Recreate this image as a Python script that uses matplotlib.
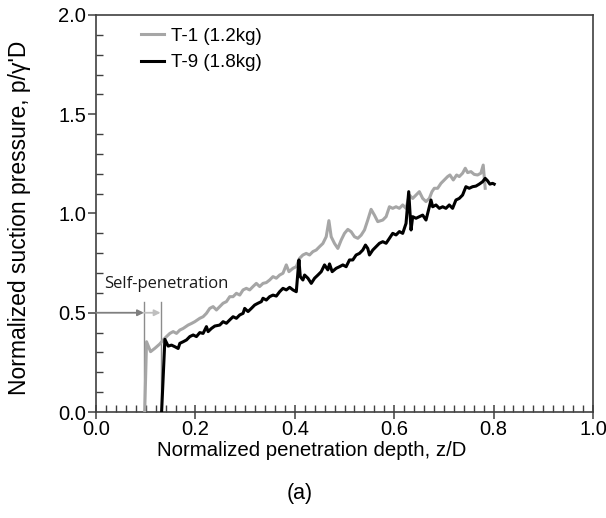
import matplotlib.pyplot as plt
from matplotlib.ticker import MultipleLocator
from matplotlib.transforms import ScaledTranslation

# T-1 (1.2kg), gray curve
t1_z = [0.098, 0.1017, 0.1098, 0.1185, 0.1285, 0.1352, 0.1419, 0.1486, 0.1553, 0.1620,
        0.1687, 0.1754, 0.1854, 0.1921, 0.1988, 0.2088, 0.2155, 0.2222, 0.2289, 0.2356,
        0.2423, 0.2490, 0.2557, 0.2624, 0.2691, 0.2758, 0.2825, 0.2892, 0.2959, 0.3025,
        0.3092, 0.3159, 0.3226, 0.3293, 0.3360, 0.3427, 0.3494, 0.3561, 0.3628, 0.3695,
        0.3762, 0.3829, 0.3882, 0.3963, 0.4030, 0.4096, 0.4163, 0.4230, 0.4297, 0.4364,
        0.4431, 0.4498, 0.4565, 0.4632, 0.4686, 0.4732, 0.4799, 0.4866, 0.4933, 0.5000,
        0.5067, 0.5134, 0.5201, 0.5268, 0.5335, 0.5402, 0.5468, 0.5535, 0.5602, 0.5669,
        0.5770, 0.5837, 0.5904, 0.5970, 0.6037, 0.6104, 0.6171, 0.6238, 0.6305, 0.6372,
        0.6439, 0.6506, 0.6573, 0.6640, 0.6707, 0.6760, 0.6807, 0.6874, 0.6941, 0.7008,
        0.7075, 0.7122, 0.7189, 0.7256, 0.7309, 0.7376, 0.7430, 0.7477, 0.7544, 0.7610,
        0.7677, 0.7744, 0.7791, 0.7831]
t1_p = [0.0, 0.354, 0.304, 0.321, 0.343, 0.363, 0.380, 0.396, 0.405, 0.396,
        0.413, 0.421, 0.438, 0.446, 0.455, 0.472, 0.480, 0.497, 0.522, 0.531,
        0.514, 0.531, 0.548, 0.556, 0.581, 0.581, 0.598, 0.589, 0.615, 0.623,
        0.615, 0.632, 0.648, 0.632, 0.648, 0.652, 0.665, 0.682, 0.674, 0.690,
        0.699, 0.741, 0.707, 0.724, 0.732, 0.774, 0.791, 0.799, 0.791, 0.808,
        0.816, 0.833, 0.849, 0.883, 0.964, 0.883, 0.849, 0.824, 0.866, 0.900,
        0.920, 0.908, 0.883, 0.875, 0.891, 0.917, 0.967, 1.021, 0.992, 0.959,
        0.967, 0.984, 1.034, 1.026, 1.034, 1.026, 1.043, 1.026, 1.093, 1.076,
        1.093, 1.110, 1.076, 1.060, 1.076, 1.110, 1.127, 1.127, 1.152, 1.169,
        1.186, 1.194, 1.169, 1.194, 1.186, 1.203, 1.228, 1.206, 1.211, 1.197,
        1.194, 1.203, 1.244, 1.127]

# T-9 (1.8kg), black curve
t9_z = [0.132, 0.1386, 0.1452, 0.1519, 0.1586, 0.1653, 0.1687, 0.1754, 0.1821, 0.1888,
        0.1955, 0.2021, 0.2088, 0.2155, 0.2222, 0.2256, 0.2323, 0.2390, 0.2490, 0.2557,
        0.2624, 0.2691, 0.2758, 0.2825, 0.2892, 0.2959, 0.2992, 0.3059, 0.3126, 0.3193,
        0.3260, 0.3327, 0.3360, 0.3427, 0.3494, 0.3561, 0.3628, 0.3695, 0.3762, 0.3829,
        0.3896, 0.3963, 0.4030, 0.4083, 0.4110, 0.4163, 0.4197, 0.4264, 0.4331, 0.4398,
        0.4465, 0.4532, 0.4598, 0.4665, 0.4699, 0.4752, 0.4833, 0.4900, 0.4967, 0.5033,
        0.5100, 0.5167, 0.5234, 0.5301, 0.5368, 0.5422, 0.5468, 0.5502, 0.5569, 0.5636,
        0.5703, 0.5770, 0.5837, 0.5904, 0.5970, 0.6037, 0.6104, 0.6171, 0.6238, 0.6292,
        0.6339, 0.6372, 0.6439, 0.6506, 0.6573, 0.6640, 0.6707, 0.6740, 0.6774, 0.6841,
        0.6908, 0.6975, 0.7041, 0.7108, 0.7175, 0.7242, 0.7309, 0.7376, 0.7443, 0.7510,
        0.7577, 0.7644, 0.7711, 0.7778, 0.7831, 0.7878, 0.7925, 0.7979, 0.8012]
t9_p = [0.0, 0.366, 0.332, 0.337, 0.329, 0.320, 0.346, 0.354, 0.363, 0.380,
        0.388, 0.380, 0.400, 0.396, 0.430, 0.405, 0.421, 0.433, 0.438, 0.455,
        0.447, 0.464, 0.480, 0.472, 0.489, 0.497, 0.522, 0.506, 0.522, 0.539,
        0.548, 0.556, 0.573, 0.564, 0.581, 0.589, 0.584, 0.606, 0.623, 0.615,
        0.628, 0.615, 0.606, 0.766, 0.682, 0.665, 0.690, 0.674, 0.648, 0.674,
        0.690, 0.707, 0.741, 0.716, 0.746, 0.707, 0.724, 0.732, 0.741, 0.732,
        0.766, 0.766, 0.791, 0.799, 0.816, 0.841, 0.824, 0.791, 0.816, 0.833,
        0.850, 0.858, 0.850, 0.875, 0.900, 0.892, 0.909, 0.900, 0.950, 1.110,
        0.917, 0.984, 0.976, 0.984, 0.992, 0.967, 1.034, 1.068, 1.034, 1.043,
        1.026, 1.034, 1.026, 1.043, 1.026, 1.068, 1.076, 1.093, 1.135, 1.127,
        1.135, 1.138, 1.148, 1.160, 1.177, 1.165, 1.148, 1.152, 1.148]

# self-penetration markers
self_pen_z = [0.0964, 0.1299]
self_pen_top = 0.556

plt.rcParams['font.family'] = ['Liberation Sans', 'DejaVu Sans']

fig = plt.figure(figsize=(6.06, 5.18), dpi=100)
ax = fig.add_axes([96 / 606, 1 - 412 / 518, 497 / 606, 397 / 518])

# vertical guide lines and arrows
for z in self_pen_z:
    ax.plot([z, z], [0, self_pen_top], color='#8c8c8c', lw=1.0, zorder=1)
ax.annotate('', xy=(self_pen_z[0], 0.5), xytext=(0.0, 0.5),
            arrowprops=dict(arrowstyle='-|>', color='#7f7f7f', lw=1.3,
                            mutation_scale=9, shrinkA=0, shrinkB=0))
ax.annotate('', xy=(self_pen_z[1], 0.5), xytext=(self_pen_z[0], 0.5),
            arrowprops=dict(arrowstyle='-|>', color='#bfbfbf', lw=1.3,
                            mutation_scale=9, shrinkA=0, shrinkB=0))
ax.text(0.016, 0.625, 'Self-penetration', fontsize=12, family='Open Sans',
        color='#1a1a1a')

ax.plot(t1_z, t1_p, color='#a6a6a6', lw=2.2, label='T-1 (1.2kg)', zorder=3)
ax.plot(t9_z, t9_p, color='black', lw=2.2, label='T-9 (1.8kg)', zorder=4)

ax.set_xlim(0, 1.0)
ax.set_ylim(0, 2.0)
ax.xaxis.set_major_locator(MultipleLocator(0.2))
ax.xaxis.set_minor_locator(MultipleLocator(0.02))
ax.yaxis.set_major_locator(MultipleLocator(0.5))
ax.yaxis.set_minor_locator(MultipleLocator(0.1))
ax.xaxis.set_major_formatter(plt.FormatStrFormatter('%.1f'))
ax.yaxis.set_major_formatter(plt.FormatStrFormatter('%.1f'))

ax.tick_params(axis='x', which='major', direction='inout', length=10, width=1.1,
               color='#404040', labelsize=14.5, pad=1)
ax.tick_params(axis='y', which='major', direction='out', length=6, width=1.1,
               color='#404040', labelsize=14.5, pad=1)
ax.tick_params(which='minor', direction='in', length=5, width=1.0, color='#404040')
for s in ax.spines.values():
    s.set_color('#404040')
    s.set_linewidth(1.2)

# nudge the last x tick label so it stays inside the canvas
ticks = ax.xaxis.get_major_ticks()
lab = ticks[-1].label1
lab.set_transform(lab.get_transform() + ScaledTranslation(-4 / 100, 0, fig.dpi_scale_trans))

ax.set_xlabel('Normalized penetration depth, z/D', fontsize=14.7)
ax.xaxis.set_label_coords(0.434, -0.074)
ax.set_ylabel("Normalized suction pressure, p/\u03b3'D", fontsize=16.5)
ax.yaxis.set_label_coords(-0.13, 0.49)

ax.legend(loc='upper left', bbox_to_anchor=(0.09, 0.968), frameon=False,
          fontsize=13.5, handlelength=1.25, handletextpad=0.35, labelspacing=0.5,
          borderpad=0, borderaxespad=0)

fig.text(0.495, 1 - 493 / 518, '(a)', ha='center', va='center', fontsize=15.5)

fig.savefig('out.png', dpi=100)
